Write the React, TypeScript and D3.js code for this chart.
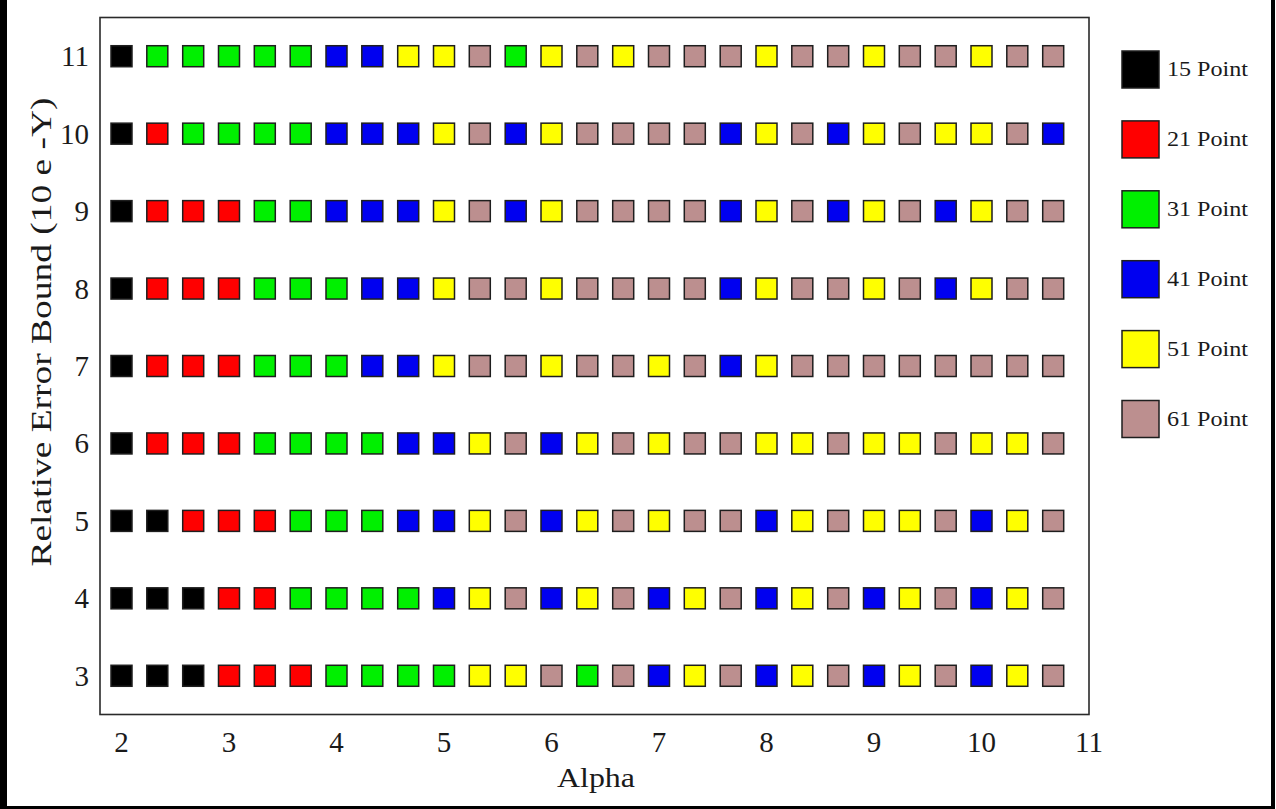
import React from "react";
import * as d3 from "d3";

const alphaValues = [2, 2.333, 2.667, 3, 3.333, 3.667, 4, 4.333, 4.667, 5, 5.333, 5.667, 6, 6.333, 6.667, 7, 7.333, 7.667, 8, 8.333, 8.667, 9, 9.333, 9.667, 10, 10.333, 10.667];
const errorBounds = [11, 10, 9, 8, 7, 6, 5, 4, 3];
const xTicks = [2, 3, 4, 5, 6, 7, 8, 9, 10, 11];

const row11 = [15,31,31,31,31,31,41,41,51,51,61,31,51,61,51,61,61,61,51,61,61,51,61,61,51,61,61];
const row10 = [15,21,31,31,31,31,41,41,41,51,61,41,51,61,61,61,61,41,51,61,41,51,61,51,51,61,41];
const row9 = [15,21,21,21,31,31,41,41,41,51,61,41,51,61,61,61,61,41,51,61,41,51,61,41,51,61,61];
const row8 = [15,21,21,21,31,31,31,41,41,51,61,61,51,61,61,61,61,41,51,61,61,51,61,41,51,61,61];
const row7 = [15,21,21,21,31,31,31,41,41,51,61,61,51,61,61,51,61,41,51,61,61,61,61,61,61,61,61];
const row6 = [15,21,21,21,31,31,31,31,41,41,51,61,41,51,61,51,61,61,51,51,61,51,51,61,51,51,61];
const row5 = [15,15,21,21,21,31,31,31,41,41,51,61,41,51,61,51,61,61,41,51,61,51,51,61,41,51,61];
const row4 = [15,15,15,21,21,31,31,31,31,41,51,61,41,51,61,41,51,61,41,51,61,41,51,61,41,51,61];
const row3 = [15,15,15,21,21,21,31,31,31,31,51,51,61,31,61,41,51,61,41,51,61,41,51,61,41,51,61];

const rows = [row11, row10, row9, row8, row7, row6, row5, row4, row3];

const pointCounts = [15, 21, 31, 41, 51, 61];
const pointLabels = ["15 Point", "21 Point", "31 Point", "41 Point", "51 Point", "61 Point"];
const pointColors = ["#000000", "#ff0000", "#00f000", "#0000f0", "#ffff00", "#bc8f8f"];

const FONT = "'Liberation Serif', 'Times New Roman', serif";

export default function App() {
  const W = 1276, H = 809;
  const x = d3.scaleLinear().domain([1.8, 11]).range([100, 1089]);
  const y = d3.scaleLinear().domain([2.5, 11.5]).range([714.5, 17.5]);
  const color = d3.scaleOrdinal<number, string>().domain(pointCounts).range(pointColors);
  const legendY = d3.scalePoint<string>().domain(pointLabels).range([69.5, 419]);
  const sq = 21;

  return (
    <svg width={W} height={H} style={{ position: "absolute", left: 0, top: 0, background: "#fff" }}>
      <rect x={0} y={0} width={W} height={H} fill="#fff" />
      {/* outer frame */}
      <rect x={0} y={0} width={7} height={H} fill="#000" />
      <rect x={1271} y={0} width={4} height={H} fill="#000" />
      <rect x={0} y={806} width={1275} height={3} fill="#000" />

      {/* plot frame */}
      <rect x={x(1.8)} y={y(11.5)} width={x(11) - x(1.8)} height={y(2.5) - y(11.5)} fill="#fff" stroke="#2a2a2a" strokeWidth={1.6} />

      {/* cells */}
      {rows.map((row, ri) =>
        row.map((v, ci) => (
          <rect
            key={`${ri}-${ci}`}
            x={x(alphaValues[ci]) - sq / 2}
            y={y(errorBounds[ri]) - sq / 2}
            width={sq}
            height={sq}
            fill={color(v)}
            stroke="#1e1e1e"
            strokeWidth={1.5}
          />
        ))
      )}

      {/* y ticks */}
      {errorBounds.map((b) => (
        <text key={b} x={89} y={y(b) + 10} textAnchor="end" fontFamily={FONT} fontSize={29} fill="#1a1a1a">
          {b}
        </text>
      ))}

      {/* x ticks */}
      {xTicks.map((t) => (
        <text key={t} x={x(t)} y={752} textAnchor="middle" fontFamily={FONT} fontSize={29} fill="#1a1a1a">
          {t}
        </text>
      ))}

      <text x={596} y={787} textAnchor="middle" fontFamily={FONT} fontSize={28} fill="#1a1a1a" textLength={78} lengthAdjust="spacingAndGlyphs">
        Alpha
      </text>

      <text
        transform={`translate(51, ${332}) rotate(-90)`}
        textAnchor="middle"
        fontFamily={FONT}
        fontSize={30}
        fill="#1a1a1a"
        textLength={469}
        lengthAdjust="spacingAndGlyphs"
      >
        Relative Error Bound (10 e -Y)
      </text>

      {/* legend */}
      {pointLabels.map((lab, i) => (
        <g key={lab}>
          <rect
            x={1122}
            y={(legendY(lab) as number) - 18.5}
            width={37}
            height={37}
            fill={pointColors[i]}
            stroke="#1e1e1e"
            strokeWidth={1.5}
          />
          <text
            x={1167}
            y={(legendY(lab) as number) + 6.5}
            fontFamily={FONT}
            fontSize={21}
            fill="#1a1a1a"
            textLength={81}
            lengthAdjust="spacingAndGlyphs"
          >
            {lab}
          </text>
        </g>
      ))}
    </svg>
  );
}
